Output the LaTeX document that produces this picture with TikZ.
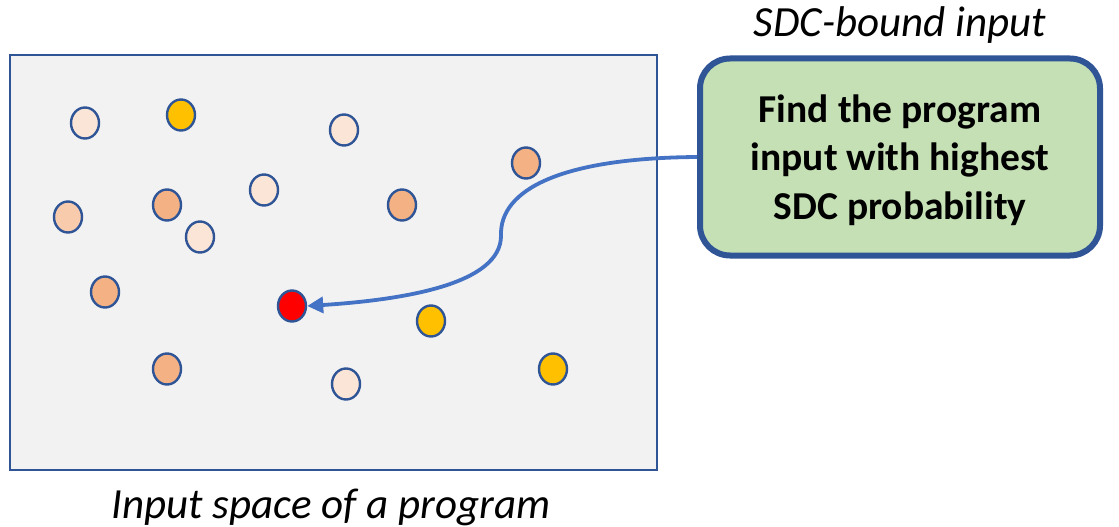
\documentclass[tikz,border=0pt]{standalone}
\usepackage{fontspec}
\setmainfont{Carlito}
\usetikzlibrary{shapes.geometric,arrows.meta}
\definecolor{edgeblue}{HTML}{2F5597}
\definecolor{arrowblue}{HTML}{4472C4}
\definecolor{spacegray}{HTML}{F2F2F2}
\definecolor{boxgreen}{HTML}{C5E0B4}
\definecolor{cLight}{HTML}{FBE5D6}
\definecolor{cPeach}{HTML}{F8CBAD}
\definecolor{cOrange}{HTML}{F4B183}
\definecolor{cGold}{HTML}{FFC000}
\definecolor{cRed}{HTML}{FF0000}
\tikzset{
  dot/.style={ellipse, draw=edgeblue, line width=2.4pt, minimum width=28pt, minimum height=31pt, inner sep=0pt},
  goalbox/.style={draw=edgeblue, line width=6pt, fill=boxgreen, rounded corners=30pt,
    minimum width=400pt, minimum height=197pt, align=center, font=\fontsize{39.5}{48.5}\selectfont\bfseries},
  caption/.style={font=\fontsize{43}{50}\selectfont\itshape},
  link/.style={draw=arrowblue, line width=3.8pt, -{Triangle[length=16pt,width=16pt]}}
}
\begin{document}
\begin{tikzpicture}[x=1pt,y=-1pt]
\useasboundingbox (0,0) rectangle (1119,527);
% the input space
\draw[edgeblue, line width=2.5pt, fill=spacegray] (10,55) rectangle (657,470);
% sampled inputs
\node[dot, fill=cLight]  (d1)  at (85,123) {};
\node[dot, fill=cGold]   (d2)  at (181,115) {};
\node[dot, fill=cLight]  (d3)  at (344,130) {};
\node[dot, fill=cOrange] (d4)  at (526,163) {};
\node[dot, fill=cPeach]  (d5)  at (68,217) {};
\node[dot, fill=cOrange] (d6)  at (167,205) {};
\node[dot, fill=cLight]  (d7)  at (264,190) {};
\node[dot, fill=cLight]  (d8)  at (200,237) {};
\node[dot, fill=cOrange] (d9)  at (402,205) {};
\node[dot, fill=cOrange] (d10) at (105,292) {};
\node[dot, fill=cRed]    (worst) at (292,306) {};
\node[dot, fill=cGold]   (d12) at (431,321) {};
\node[dot, fill=cOrange] (d13) at (167,369) {};
\node[dot, fill=cLight]  (d14) at (346,384) {};
\node[dot, fill=cGold]   (d15) at (553,369) {};
% goal box and its text
\node[goalbox] (goal) at (900,157) {};
\node[align=center, font=\fontsize{39.5}{48.5}\selectfont\bfseries] (goaltext) at (900,160)
  {Find the program\\input with highest\\SDC probability};
\node[caption] (goaltitle) at (900,25) {SDC-bound input};
\node[caption] (spacetitle) at (331,507) {Input space of a program};
% connector
\draw[link] (goal.west) .. controls (560,158) and (500,190) .. (501,235)
  .. controls (502,285) and (400,300) .. (worst.east);
\end{tikzpicture}
\end{document}
